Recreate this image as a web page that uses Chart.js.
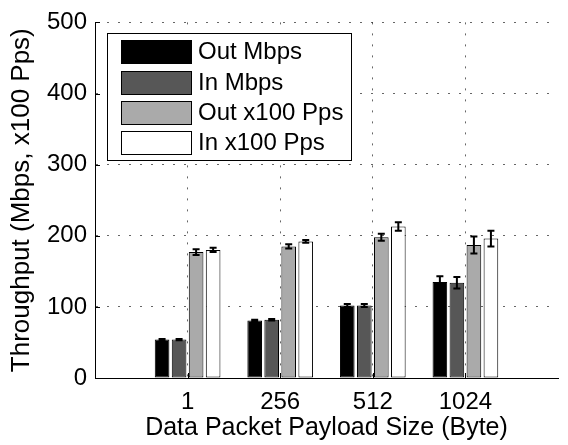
<!DOCTYPE html>
<html>
<head>
<meta charset="utf-8">
<title>Throughput vs payload size</title>
<script src="https://cdn.jsdelivr.net/npm/chart.js@4.4.1/dist/chart.umd.min.js"></script>
<style>
  html, body { margin: 0; padding: 0; background: #fff; }
  #chart { display: block; }
</style>
</head>
<body>
<canvas id="chart" width="568" height="445"></canvas>
<script>
// payload sizes on the x axis
var categories = ['1', '256', '512', '1024'];
var seriesNames = ['Out Mbps', 'In Mbps', 'Out x100 Pps', 'In x100 Pps'];
var seriesColors = ['#000000', '#575757', '#aaaaaa', '#ffffff'];

// bar heights
var outMbps = [54, 81, 102, 135];
var inMbps = [54, 82, 102, 134];
var outPps = [177, 185, 198, 187];
var inPps = [180, 192, 213, 196];

// half length of each error bar
var outMbpsErr = [1, 1, 2, 8];
var inMbpsErr = [1, 1, 2, 8];
var outPpsErr = [4, 3, 5, 12];
var inPpsErr = [3, 2, 6, 11];

var yTicks = [0, 100, 200, 300, 400, 500];

var FONT = "'Liberation Sans', Arial, Helvetica, sans-serif";
var GRID = 'rgba(0,0,0,0.6)';

function points(values) {
  return values.map(function(v, i) { return {x: i + 1, y: v}; });
}

function makeDataset(i, values, errs) {
  return {
    label: seriesNames[i],
    data: points(values),
    errors: errs,
    backgroundColor: seriesColors[i],
    borderColor: '#000',
    borderWidth: 1,
    borderSkipped: false,
    barPercentage: 0.86,
    categoryPercentage: 0.735
  };
}

// MATLAB style error bars on top of each bar
var errorBars = {
  id: 'errorBars',
  afterDatasetsDraw: function(chart) {
    var ctx = chart.ctx;
    var y = chart.scales.y;
    ctx.save();
    ctx.strokeStyle = '#000';
    ctx.lineWidth = 2;
    chart.data.datasets.forEach(function(ds, i) {
      var meta = chart.getDatasetMeta(i);
      meta.data.forEach(function(bar, j) {
        var v = ds.data[j].y, e = ds.errors[j];
        var top = y.getPixelForValue(v + e);
        var bottom = y.getPixelForValue(v - e);
        ctx.beginPath();
        ctx.moveTo(bar.x, top); ctx.lineTo(bar.x, bottom);
        ctx.moveTo(bar.x - 3.5, top); ctx.lineTo(bar.x + 3.5, top);
        ctx.moveTo(bar.x - 3.5, bottom); ctx.lineTo(bar.x + 3.5, bottom);
        ctx.stroke();
      });
    });
    ctx.restore();
  }
};

// inward tick marks like matlab
var innerTicks = {
  id: 'innerTicks',
  beforeDatasetsDraw: function(chart) {
    var ctx = chart.ctx, a = chart.chartArea;
    var x = chart.scales.x, y = chart.scales.y;
    ctx.save();
    ctx.strokeStyle = '#000';
    ctx.lineWidth = 1;
    ctx.beginPath();
    y.ticks.forEach(function(t) {
      var py = Math.round(y.getPixelForValue(t.value)) + 0.5;
      ctx.moveTo(a.left, py); ctx.lineTo(a.left + 5, py);
    });
    x.ticks.forEach(function(t) {
      if (t.value <= 0 || t.value >= 5) return;
      var px = Math.round(x.getPixelForValue(t.value)) + 0.5;
      ctx.moveTo(px, a.bottom); ctx.lineTo(px, a.bottom - 5);
    });
    ctx.stroke();
    ctx.restore();
  }
};

// boxed legend in the upper left corner of the plot
var boxLegend = {
  id: 'boxLegend',
  afterDraw: function(chart) {
    var ctx = chart.ctx, a = chart.chartArea;
    var left = a.left + 12, top = a.top + 11;
    var rowH = 30.3, swW = 70, swH = 23;
    ctx.save();
    ctx.font = '24px ' + FONT;
    var maxW = 0;
    chart.data.datasets.forEach(function(ds) {
      maxW = Math.max(maxW, ctx.measureText(ds.label).width);
    });
    var w = 14 + swW + 7 + maxW + 8;
    var h = 127;
    ctx.fillStyle = '#fff';
    ctx.fillRect(left, top, w, h);
    ctx.strokeStyle = '#000';
    ctx.lineWidth = 1;
    ctx.strokeRect(Math.round(left) + 0.5, Math.round(top) + 0.5, Math.round(w), Math.round(h));
    chart.data.datasets.forEach(function(ds, i) {
      var sy = Math.round(top + 7 + i * rowH);
      ctx.fillStyle = ds.backgroundColor;
      ctx.fillRect(left + 14, sy, swW, swH);
      ctx.strokeRect(Math.round(left + 14) + 0.5, sy + 0.5, swW, swH);
      ctx.fillStyle = '#000';
      ctx.textBaseline = 'middle';
      ctx.fillText(ds.label, left + 14 + swW + 7, sy + swH / 2 + 1);
    });
    ctx.restore();
  }
};

new Chart(document.getElementById('chart'), {
  type: 'bar',
  data: {
    datasets: [
      makeDataset(0, outMbps, outMbpsErr),
      makeDataset(1, inMbps, inMbpsErr),
      makeDataset(2, outPps, outPpsErr),
      makeDataset(3, inPps, inPpsErr)
    ]
  },
  options: {
    responsive: false,
    animation: false,
    devicePixelRatio: 1,
    layout: { padding: { left: 0, top: 15, right: 2, bottom: 0 } },
    plugins: {
      legend: { display: false },
      tooltip: { enabled: false }
    },
    scales: {
      x: {
        type: 'linear',
        min: 0,
        max: 5,
        offset: false,
        afterBuildTicks: function(scale) {
          scale.ticks = [0, 1, 2, 3, 4, 5].map(function(v) { return {value: v}; });
        },
        afterFit: function(scale) { scale.height = 67; },
        ticks: {
          color: '#000',
          font: { family: FONT, size: 24 },
          padding: 10,
          maxRotation: 0,
          autoSkip: false,
          callback: function(v) { return categories[v - 1] || ''; }
        },
        grid: {
          offset: false,
          drawTicks: false,
          color: function(ctx) { return ctx.tick.value > 0 && ctx.tick.value < 5 ? GRID : 'rgba(0,0,0,0)'; },
          lineWidth: 1
        },
        border: { display: true, color: '#000', width: 1, dash: [2, 9] },
        title: {
          display: true,
          text: 'Data Packet Payload Size (Byte)',
          color: '#000',
          font: { family: FONT, size: 25 },
          padding: { top: 0, bottom: 2 }
        }
      },
      y: {
        min: 0,
        max: 500,
        afterBuildTicks: function(scale) {
          scale.ticks = yTicks.map(function(v) { return {value: v}; });
        },
        afterFit: function(scale) { scale.width = 95; },
        ticks: {
          color: '#000',
          font: { family: FONT, size: 24 },
          padding: 8
        },
        grid: {
          drawTicks: false,
          color: function(ctx) { return ctx.tick.value > 0 ? GRID : 'rgba(0,0,0,0)'; },
          lineWidth: 1
        },
        border: { display: true, color: '#000', width: 1, dash: [2, 9] },
        title: {
          display: true,
          text: 'Throughput (Mbps, x100 Pps)',
          color: '#000',
          font: { family: FONT, size: 26 },
          padding: { top: 6, bottom: 0 }
        }
      }
    }
  },
  plugins: [errorBars, innerTicks, boxLegend]
});
</script>
</body>
</html>
